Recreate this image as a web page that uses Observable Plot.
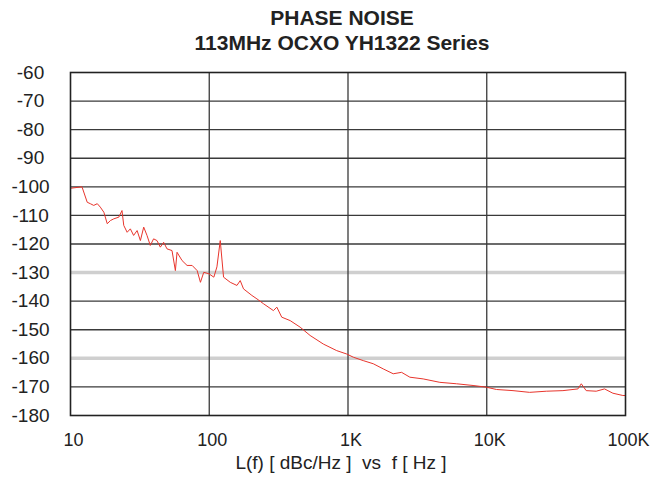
<!DOCTYPE html>
<html><head><meta charset="utf-8">
<script src="https://cdn.jsdelivr.net/npm/d3@7"></script>
<script src="https://cdn.jsdelivr.net/npm/@observablehq/plot@0.6"></script>
<style>
body{margin:0;background:#fff;font-family:"Liberation Sans",Arial,sans-serif;overflow:hidden;}
#title{width:650px;box-sizing:border-box;height:55px;padding-top:5px;padding-left:34px;text-align:center;font-weight:bold;font-size:21px;line-height:25px;color:#222}
svg{overflow:visible}
</style></head><body>
<div id="title"><div>PHASE NOISE</div><div>113MHz OCXO YH1322 Series</div></div>
<div id="chart"></div>
<script>
const freq = [10, 12.1, 13.2, 13.9, 14.7, 15.6, 16.4, 17.4, 18.4, 19.4, 20.5, 22.3, 23.5, 24.2, 25.6, 27.0, 28.5, 30.2, 31.9, 33.7, 35.6, 37.6, 39.7, 42.0, 44.4, 46.9, 49.6, 53.9, 57.0, 58.6, 63.7, 69.2, 75.3, 81.8, 86.4, 91.3, 99.3, 107.9, 113.6, 120, 126.8, 141.7, 158.3, 167.2, 176.6, 202.9, 220.6, 246, 290, 307, 333, 383, 452, 533, 664, 829, 980, 1092, 1288, 1521, 1795, 2118, 2433, 2792, 3483, 4592, 6054, 7968, 9950, 11750, 15460, 20370, 26860, 35400, 45400, 48000, 52100, 61500, 70600, 81100, 95700, 100000];
const noise = [-100.5, -100, -105.4, -105.9, -106.5, -105.9, -107.1, -108.9, -112.9, -111.8, -111.2, -110.6, -108.3, -113.5, -115.9, -114.7, -117, -115.3, -118.8, -114.1, -117, -120.5, -118.2, -118.8, -121.1, -119.4, -121.7, -122.3, -129.3, -122.9, -125.8, -127.5, -127.5, -129.3, -133.4, -129.9, -130.4, -131.6, -128, -118.8, -131.6, -133.4, -134.5, -132.8, -135.7, -138, -139.2, -140.9, -143.3, -142.1, -145.6, -146.8, -149.1, -152, -155, -157.3, -158.5, -159.6, -160.8, -161.9, -163.7, -165.4, -164.9, -166.6, -167.2, -168.4, -168.9, -169.5, -170.1, -170.9, -171.3, -171.9, -171.5, -171.3, -170.7, -168.9, -171.3, -171.5, -170.7, -172.2, -173, -173];
const yTicks = d3.range(-180, -59, 10);
const lightGrid = [-130, -160];
const darkGrid = [-70, -80, -90, -100, -110, -120, -140, -150, -170];
const xTicks = [10, 100, 1000, 10000, 100000];
const xTickLabels = ["10", "100", "1K", "10K", "100K"];
const xGrid = [100, 1000, 10000];
const xTitle = "L(f) [ dBc/Hz ]\u00a0\u00a0vs\u00a0\u00a0f [ Hz ]";
const data = freq.map((f, i) => ({f, v: noise[i]}));

const chart = Plot.plot({
  width: 650, height: 425,
  marginTop: 17, marginBottom: 65, marginLeft: 70, marginRight: 25,
  style: {fontFamily: "'Liberation Sans', Arial, sans-serif", color: "#222", background: "#fff", overflow: "visible"},
  x: {type: "log", domain: [10, 100000]},
  y: {domain: [-180, -60]},
  marks: [
    Plot.ruleY(lightGrid, {stroke: "#cfcfcf", strokeWidth: 3.5}),
    Plot.ruleY(darkGrid, {stroke: "#3a3a3a", strokeWidth: 1.3}),
    Plot.ruleX(xGrid, {stroke: "#3a3a3a", strokeWidth: 1.3}),
    Plot.line(data, {x: "f", y: "v", stroke: "#e8352c", strokeWidth: 1}),
    Plot.frame({stroke: "#222", strokeWidth: 1.6}),
    Plot.axisY({ticks: yTicks, tickFormat: d => String(d), tickSize: 0, tickPadding: 40, textAnchor: "middle", fontSize: 19, label: null}),
    Plot.axisX({ticks: xTicks, tickFormat: d => xTickLabels[xTicks.indexOf(d)], tickSize: 0, tickPadding: 18, dx: 3, fontSize: 18, label: null}),
    Plot.text([xTitle], {text: d => d, frameAnchor: "bottom", dy: 53, dx: -7, fontSize: 19})
  ]
});
document.getElementById("chart").appendChild(chart);
</script>
</body></html>
